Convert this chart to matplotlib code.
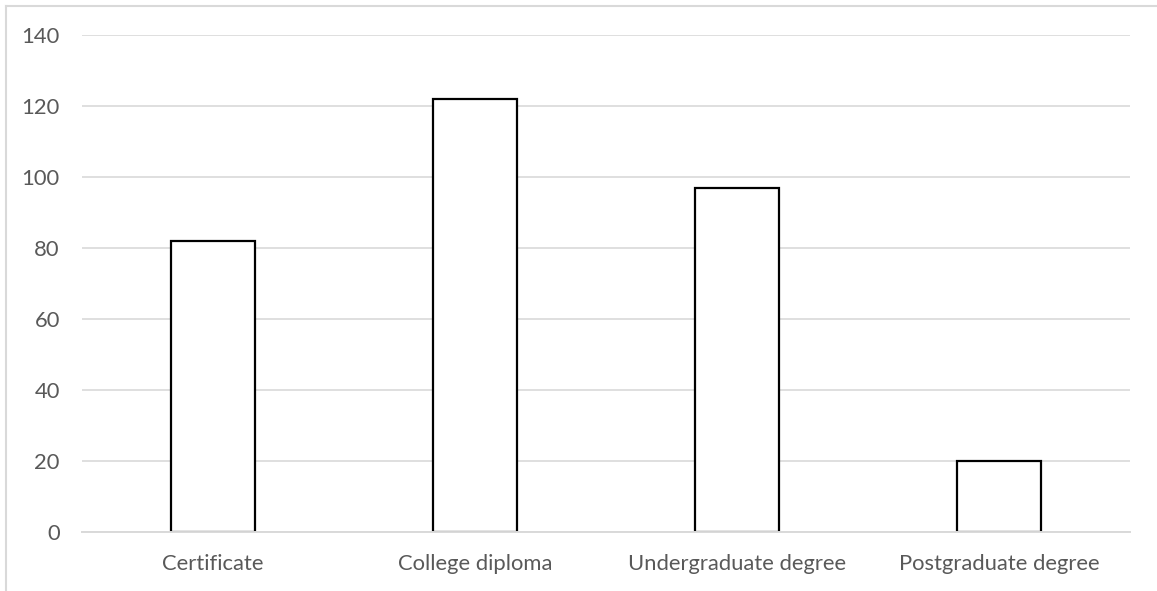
import matplotlib.pyplot as plt
from matplotlib.lines import Line2D

categories = ['Certificate', 'College diploma', 'Undergraduate degree', 'Postgraduate degree']
counts = [82, 122, 97, 20]
y_ticks = [0, 20, 40, 60, 80, 100, 120, 140]

plt.rcParams['font.family'] = ['Lato', 'DejaVu Sans']

W, H = 1157, 591
fig = plt.figure(figsize=(W / 100, H / 100), dpi=100)
ax = fig.add_axes([82 / W, (H - 532) / H, (1130 - 82) / W, (532 - 35) / H])

x = range(len(categories))
ax.bar(x, counts, width=0.317, color='white', edgecolor='black', linewidth=1.6, zorder=2)

ax.set_xlim(-0.5, len(categories) - 0.5)
ax.set_ylim(0, 140)
ax.set_yticks(y_ticks)
ax.set_xticks(list(x))
ax.set_xticklabels(categories)
ax.set_axisbelow(True)
ax.yaxis.grid(True, color='#d9d9d9', linewidth=1.2)
for s in ['top', 'right', 'left']:
    ax.spines[s].set_visible(False)
ax.spines['bottom'].set_color('#d9d9d9')
ax.spines['bottom'].set_linewidth(1.4)
ax.spines['bottom'].set_zorder(3)
ax.tick_params(length=0, labelsize=15.8, labelcolor='#595959')
ax.tick_params(axis='x', pad=16)
ax.tick_params(axis='y', pad=16)

# chart area border
fig.add_artist(Line2D([6 / W, 1], [1 - 6 / H, 1 - 6 / H], color='#d9d9d9', lw=1.5))
fig.add_artist(Line2D([6 / W, 6 / W], [0, 1 - 6 / H], color='#d9d9d9', lw=1.5))

fig.savefig('out.png', dpi=100)
